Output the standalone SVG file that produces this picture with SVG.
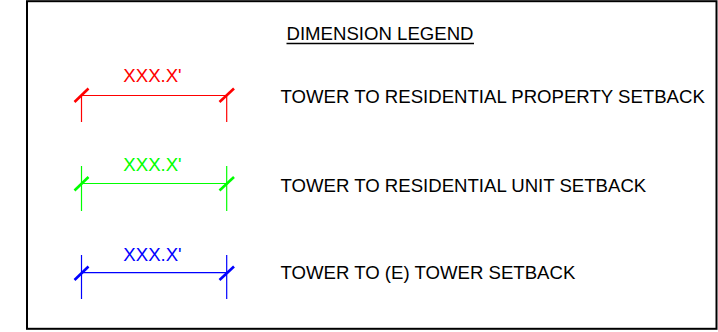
<svg xmlns="http://www.w3.org/2000/svg" width="718" height="332" viewBox="0 0 718 332">
<style>
text{font-family:"Liberation Sans",Arial,sans-serif;font-size:18.6px}
.lbl{fill:#000}
.dim{fill:none;stroke-width:1.2}
.tick{fill:none;stroke-width:2.6;stroke-linecap:butt}
.red{stroke:#ff0000}
.grn{stroke:#00ff00}
.blu{stroke:#0000ff}
</style>
<rect x="27" y="1.2" width="689.5" height="327.6" fill="#fff" stroke="#000" stroke-width="2"/>
<g id="title">
<text class="lbl" x="286.5" y="40">DIMENSION LEGEND</text>
<line x1="286.5" y1="43.5" x2="474" y2="43.5" stroke="#000" stroke-width="1.4"/>
</g>
<g id="connectors">
<g id="dim-red">
<line class="dim red" x1="81.5" y1="95.5" x2="226.7" y2="95.5"/>
<line class="dim red" x1="81.5" y1="95.5" x2="81.5" y2="122"/>
<line class="dim red" x1="226.7" y1="95.5" x2="226.7" y2="122"/>
<line class="tick red" x1="74.5" y1="102" x2="88.5" y2="88.5"/>
<line class="tick red" x1="219.5" y1="102" x2="234" y2="88.5"/>
</g>
<g id="dim-green">
<line class="dim grn" x1="81.5" y1="183.5" x2="226.7" y2="183.5"/>
<line class="dim grn" x1="81.5" y1="166" x2="81.5" y2="211"/>
<line class="dim grn" x1="226.7" y1="166" x2="226.7" y2="211"/>
<line class="tick grn" x1="74.5" y1="190.5" x2="88.5" y2="177"/>
<line class="tick grn" x1="219.5" y1="190.5" x2="234" y2="177"/>
</g>
<g id="dim-blue">
<line class="dim blu" x1="81.5" y1="272.7" x2="226.7" y2="272.7"/>
<line class="dim blu" x1="81.5" y1="255" x2="81.5" y2="299"/>
<line class="dim blu" x1="226.7" y1="255" x2="226.7" y2="299"/>
<line class="tick blu" x1="74.5" y1="280" x2="88.5" y2="266.5"/>
<line class="tick blu" x1="219.5" y1="280" x2="234" y2="266.5"/>
</g>
</g>
<g id="legend-red">
<text x="152.5" y="82" text-anchor="middle" fill="#ff0000">XXX.X'</text>
<text class="lbl" x="280.5" y="103">TOWER TO RESIDENTIAL PROPERTY SETBACK</text>
</g>
<g id="legend-green">
<text x="152.5" y="171" text-anchor="middle" fill="#00ff00">XXX.X'</text>
<text class="lbl" x="280.5" y="192">TOWER TO RESIDENTIAL UNIT SETBACK</text>
</g>
<g id="legend-blue">
<text x="152.5" y="261" text-anchor="middle" fill="#0000ff">XXX.X'</text>
<text class="lbl" x="280.5" y="278.5">TOWER TO (E) TOWER SETBACK</text>
</g>
</svg>
